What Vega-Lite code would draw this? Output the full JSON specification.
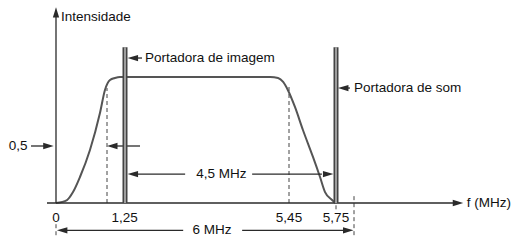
{
  "$schema": "https://vega.github.io/schema/vega-lite/v6.json",
  "width": 520,
  "height": 248,
  "padding": 0,
  "background": "white",
  "config": {"view": {"stroke": null}, "text": {"font": "Liberation Sans", "fontSize": 13.5, "color": "#111"}},
  "datasets": {
    "curve": [
      {"f": 0, "v": 0}, {"f": 0.108, "v": 0.026}, {"f": 0.167, "v": 0.096}, {"f": 0.235, "v": 0.228},
      {"f": 0.333, "v": 0.465}, {"f": 0.431, "v": 0.739}, {"f": 0.48, "v": 0.906}, {"f": 0.625, "v": 0.978},
      {"f": 0.833, "v": 0.993}, {"f": 1.04, "v": 1}, {"f": 4.97, "v": 1}, {"f": 5.17, "v": 0.993},
      {"f": 5.3, "v": 0.964}, {"f": 5.42, "v": 0.906}, {"f": 5.488, "v": 0.783}, {"f": 5.539, "v": 0.616},
      {"f": 5.603, "v": 0.404}, {"f": 5.648, "v": 0.228}, {"f": 5.68, "v": 0.096}, {"f": 5.725, "v": 0.026},
      {"f": 5.745, "v": 0}
    ],
    "hlines": [
      {"f": -0.185, "f2": 8.1, "v": 0},
      {"f": 1.45, "f2": 1.686, "v": 1.138},
      {"f": 5.85, "f2": 5.944, "v": 0.92},
      {"f": -0.513, "f2": -0.2, "v": 0.5},
      {"f": 0.75, "f2": 1.635, "v": 0.5},
      {"f": 1.45, "f2": 2.79, "v": 0.254},
      {"f": 4.506, "f2": 5.66, "v": 0.254},
      {"f": 0.09, "f2": 2.74, "v": -0.237},
      {"f": 4.25, "f2": 5.9, "v": -0.237}
    ],
    "vlines": [
      {"f": 0, "v": 0, "v2": 1.45}
    ],
    "dashed": [
      {"f": 0.5, "v": 0, "v2": 0.92},
      {"f": 5.45, "v": 0, "v2": 0.942},
      {"f": 0, "v": -0.184, "v2": -0.3},
      {"f": 6, "v": 0.06, "v2": -0.3},
      {"f": 5.75, "v": -0.02, "v2": -0.07}
    ],
    "carriers": [
      {"name": "imagem", "f": 1.25, "v": 0, "v2": 1.217},
      {"name": "som", "f": 5.75, "v": 0, "v2": 1.217}
    ],
    "heads": [
      {"dir": "right", "f": 8.13, "v": 0},
      {"dir": "right", "f": -0.155, "v": 0.5},
      {"dir": "right", "f": 5.7, "v": 0.254},
      {"dir": "right", "f": 5.92, "v": -0.237},
      {"dir": "left", "f": 1.45, "v": 1.138},
      {"dir": "left", "f": 5.85, "v": 0.92},
      {"dir": "left", "f": 0.72, "v": 0.5},
      {"dir": "left", "f": 1.45, "v": 0.254},
      {"dir": "left", "f": 0.06, "v": -0.237},
      {"dir": "up", "f": 0, "v": 1.47}
    ],
    "labels_left": [
      {"text": "Intensidade", "f": 0.049, "v": 1.435},
      {"text": "Portadora de imagem", "f": 1.763, "v": 1.138},
      {"text": "Portadora de som", "f": 6.0, "v": 0.92},
      {"text": "f (MHz)", "f": 8.31, "v": 0}
    ],
    "labels_center": [
      {"text": "0,5", "f": -0.78, "v": 0.5},
      {"text": "4,5 MHz", "f": 3.72, "v": 0.254},
      {"text": "6 MHz", "f": 3.48, "v": -0.237},
      {"text": "0", "f": 0, "v": -0.13},
      {"text": "1,25", "f": 1.23, "v": -0.13},
      {"text": "5,45", "f": 5.45, "v": -0.13},
      {"text": "5,75", "f": 5.75, "v": -0.13}
    ]
  },
  "encoding": {
    "x": {"field": "f", "type": "quantitative", "axis": null,
      "scale": {"type": "linear", "domain": [-1.15, 0, 0.5, 1.25, 5.45, 5.75, 6, 9.4], "range": [0, 56, 107, 125, 289, 336, 354, 520], "nice": false, "zero": false}},
    "y": {"field": "v", "type": "quantitative", "axis": null,
      "scale": {"type": "linear", "domain": [-0.39, 0, 0.5, 1, 1.56], "range": [248, 203, 146, 77, 0], "nice": false, "zero": false}}
  },
  "layer": [
    {"data": {"name": "dashed"}, "mark": {"type": "rule", "color": "#444", "strokeWidth": 1, "strokeDash": [4, 3]},
      "encoding": {"y2": {"field": "v2"}}},
    {"data": {"name": "curve"}, "mark": {"type": "line", "color": "#555", "strokeWidth": 2, "interpolate": "monotone"}},
    {"data": {"name": "hlines"}, "mark": {"type": "rule", "color": "#2a2a2a", "strokeWidth": 1.3},
      "encoding": {"x2": {"field": "f2"}}},
    {"data": {"name": "vlines"}, "mark": {"type": "rule", "color": "#2a2a2a", "strokeWidth": 1.3},
      "encoding": {"y2": {"field": "v2"}}},
    {"data": {"name": "carriers"}, "mark": {"type": "rule", "color": "#444", "strokeWidth": 5},
      "encoding": {"y2": {"field": "v2"}}},
    {"data": {"name": "carriers"}, "mark": {"type": "rule", "color": "#b5b5b5", "strokeWidth": 1.6},
      "encoding": {"y2": {"field": "v2"}}},
    {"data": {"name": "heads"}, "transform": [{"filter": "datum.dir === 'right'"}],
      "mark": {"type": "point", "filled": true, "opacity": 1, "color": "#2a2a2a", "size": 110, "shape": "M-1,-0.6L1,0L-1,0.6Z"}},
    {"data": {"name": "heads"}, "transform": [{"filter": "datum.dir === 'left'"}],
      "mark": {"type": "point", "filled": true, "opacity": 1, "color": "#2a2a2a", "size": 110, "shape": "M1,-0.6L-1,0L1,0.6Z"}},
    {"data": {"name": "heads"}, "transform": [{"filter": "datum.dir === 'up'"}],
      "mark": {"type": "point", "filled": true, "opacity": 1, "color": "#2a2a2a", "size": 110, "shape": "M-0.6,1L0,-1L0.6,1Z"}},
    {"data": {"name": "labels_left"}, "mark": {"type": "text", "align": "left", "baseline": "middle"},
      "encoding": {"text": {"field": "text"}}},
    {"data": {"name": "labels_center"}, "mark": {"type": "text", "align": "center", "baseline": "middle"},
      "encoding": {"text": {"field": "text"}}}
  ]
}
